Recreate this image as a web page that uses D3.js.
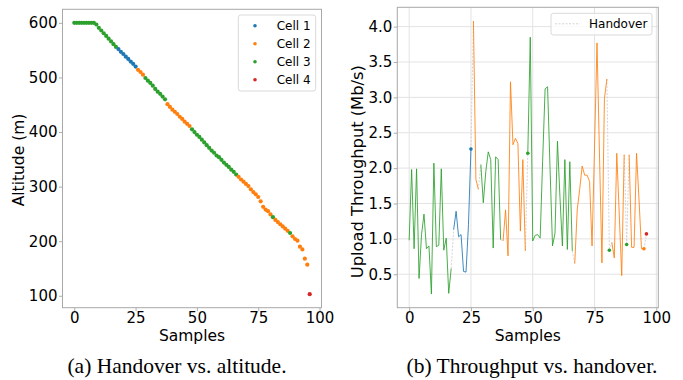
<!DOCTYPE html>
<html>
<head>
<meta charset="utf-8">
<script src="https://cdn.jsdelivr.net/npm/d3@7"></script>
<style>
  body { margin: 0; background: #fff; }
  svg { display: block; }
</style>
</head>
<body>
<svg id="chart" width="683" height="380"></svg>
<script>
// ---- data ----
const cellNames = ["Cell 1", "Cell 2", "Cell 3", "Cell 4"];
const cellColors = ["#1f77b4", "#ff7f0e", "#2ca02c", "#d62728"];

// serving cell per sample (1..4)
const cellOf = [
  3, 3, 3, 3, 3, 3, 3, 3, 3, 3, 3, 3, 3, 3, 3, 3, 3, 3,
  1, 1, 1, 1, 1, 1, 1, 1,
  2, 2, 2,
  3, 3, 3, 3, 3, 3, 3, 3, 3,
  2, 2, 2, 2, 2, 2, 2, 2, 2, 2,
  3, 3, 3, 3, 3, 3, 3, 3, 3, 3, 3, 3, 3, 3, 3, 3, 3, 3, 3,
  2, 2, 2, 2, 2, 2, 2, 2, 2, 2, 2, 2, 2, 2,
  3,
  2, 2, 2, 2, 2, 2,
  3,
  2, 2, 2, 2, 2, 2, 2,
  4
];

const altitude = [
  600, 600, 600, 600, 600, 600, 600, 600, 600,
  597, 591, 586, 581, 576, 571, 566, 561, 556,
  552, 547, 543, 538, 534, 529, 525, 520,
  514, 510, 505,
  499, 494, 490, 485, 479, 474, 470, 465, 460,
  451, 446, 441, 437, 433, 428, 424, 419, 415, 411,
  405, 400, 395, 391, 386, 381, 376, 371, 366, 362, 357, 354, 349, 344, 340, 336, 331, 327, 322,
  318, 313, 309, 305, 301, 295, 290, 286, 281, 273, 263, 258, 255, 249,
  244,
  239, 235, 231, 227, 223, 219,
  215,
  209, 204, 201, 190, 185, 168, 157,
  103
];

const throughput = [
  0.98, 1.98, 0.86, 1.99, 0.44, 1.06, 1.35, 0.86, 0.90, 0.22, 2.07, 0.89, 0.91, 1.99, 0.84, 1.01, 0.23, 0.58,
  1.13, 1.39, 1.03, 1.06, 0.54, 0.53, 1.20, 2.27,
  4.08, 1.84, 1.70,
  2.05, 1.51, 1.95, 2.23, 2.12, 0.87, 2.16, 2.12, 0.99,
  0.97, 1.41, 0.76, 3.22, 2.33, 2.42, 2.35, 1.11, 2.12, 0.83,
  2.21, 3.85, 0.97, 1.05, 1.06, 1.01, 2.10, 3.12, 3.15, 2.00, 0.90, 1.08, 2.38, 1.60, 0.90, 2.12, 0.85, 2.09, 0.83,
  0.65, 1.41, 1.70, 2.03, 1.90, 1.90, 1.81, 0.90, 2.30, 3.77, 2.20, 0.66, 2.98, 3.26,
  0.84,
  0.95, 0.73, 2.21, 1.35, 0.48, 2.19,
  0.92,
  2.19, 0.88, 0.88, 2.21, 1.55, 0.86, 0.86,
  1.07
];

// samples that carry a dot marker in panel (b)
const markerIdx = [25, 48, 81, 88, 95, 96];

const xTicks = [0, 25, 50, 75, 100];
const altTicks = [100, 200, 300, 400, 500, 600];
const tputTicks = [0.5, 1.0, 1.5, 2.0, 2.5, 3.0, 3.5, 4.0];
const handoverLabel = "Handover";

// ---- layout ----
const FONT = "'DejaVu Sans', sans-serif";
const SERIF = "'Liberation Serif', 'Times New Roman', serif";
const svg = d3.select("#chart");

const samples = d3.range(altitude.length);

function padded(ext) {
  const m = (ext[1] - ext[0]) * 0.05;
  return [ext[0] - m, ext[1] + m];
}

function frameAxes(g, x, y, xt, yt, yFmt, grid) {
  const [x0, x1] = x.range();
  const [y0, y1] = y.range();
  if (grid) {
    g.append("g").selectAll("line.gx").data(xt).join("line")
      .attr("x1", d => x(d)).attr("x2", d => x(d))
      .attr("y1", y1).attr("y2", y0)
      .attr("stroke", "#e3e3e3").attr("stroke-width", 1);
    g.append("g").selectAll("line.gy").data(yt).join("line")
      .attr("x1", x0).attr("x2", x1)
      .attr("y1", d => y(d)).attr("y2", d => y(d))
      .attr("stroke", "#e3e3e3").attr("stroke-width", 1);
  }
  const xa = g.append("g")
    .attr("transform", `translate(0,${y0})`)
    .call(d3.axisBottom(x).tickValues(xt).tickSize(3.5).tickPadding(1).tickFormat(d3.format("d")));
  const ya = g.append("g")
    .attr("transform", `translate(${x0},0)`)
    .call(d3.axisLeft(y).tickValues(yt).tickSize(3.5).tickPadding(1.5).tickFormat(yFmt));
  [xa, ya].forEach(a => {
    a.select(".domain").remove();
    a.selectAll(".tick line").attr("stroke", "#999").attr("stroke-width", 0.8);
    a.selectAll(".tick text")
      .attr("fill", "#000")
      .attr("font-family", FONT)
      .attr("font-size", "15px");
  });
  g.append("rect")
    .attr("x", x0).attr("y", y1)
    .attr("width", x1 - x0).attr("height", y0 - y1)
    .attr("fill", "none").attr("stroke", "#a8a8a8").attr("stroke-width", 1);
}

// ---- panel (a): altitude vs samples ----
const xA = d3.scaleLinear().domain(padded(d3.extent(samples))).range([62.5, 321.5]);
const yA = d3.scaleLinear().domain(padded(d3.extent(altitude))).range([307.7, 9.3]);
const gA = svg.append("g");

gA.append("g").selectAll("circle")
  .data(samples).join("circle")
  .attr("cx", i => xA(i))
  .attr("cy", i => yA(altitude[i]))
  .attr("r", 2.1)
  .attr("fill", i => cellColors[cellOf[i] - 1]);

frameAxes(gA, xA, yA, xTicks, altTicks, d3.format("d"), false);

gA.append("text")
  .attr("x", (62.5 + 321.5) / 2).attr("y", 341)
  .attr("text-anchor", "middle")
  .attr("font-family", FONT).attr("font-size", "15.5px")
  .text("Samples");
gA.append("text")
  .attr("transform", `translate(24,160) rotate(-90)`)
  .attr("text-anchor", "middle")
  .attr("font-family", FONT).attr("font-size", "15.5px")
  .text("Altitude (m)");

// legend (a)
const legA = gA.append("g");
legA.append("rect")
  .attr("x", 238.3).attr("y", 15).attr("width", 77.4).attr("height", 76)
  .attr("rx", 2.5).attr("fill", "#fff").attr("fill-opacity", 0.8)
  .attr("stroke", "#d9d9d9").attr("stroke-width", 1);
const rowA = legA.selectAll("g.row").data(cellNames).join("g")
  .attr("transform", (d, i) => `translate(0,${25.7 + i * 18})`);
rowA.append("circle").attr("cx", 255).attr("cy", 0).attr("r", 1.8)
  .attr("fill", (d, i) => cellColors[i]);
rowA.append("text").attr("x", 276.7).attr("y", 4.3)
  .attr("font-family", FONT).attr("font-size", "12px")
  .text(d => d);

// ---- panel (b): throughput vs samples ----
const xB = d3.scaleLinear().domain(padded(d3.extent(samples))).range([397.3, 658.3]);
const yB = d3.scaleLinear().domain(padded(d3.extent(throughput))).range([307.7, 7.3]);
const gB = svg.append("g");

frameAxes(gB, xB, yB, xTicks, tputTicks, d3.format(".1f"), true);

// split samples into runs of the same serving cell
const runs = [];
samples.forEach(i => {
  const last = runs[runs.length - 1];
  if (last && last.cell === cellOf[i]) last.idx.push(i);
  else runs.push({ cell: cellOf[i], idx: [i] });
});

const line = d3.line().x(i => xB(i)).y(i => yB(throughput[i]));

// handover links between consecutive runs
gB.append("g").selectAll("path")
  .data(runs.slice(1).map((r, k) => [runs[k].idx[runs[k].idx.length - 1], r.idx[0]]))
  .join("path")
  .attr("d", line)
  .attr("fill", "none")
  .attr("stroke", "#cfcfcf").attr("stroke-width", 0.9)
  .attr("stroke-dasharray", "2,1.5");

gB.append("g").selectAll("path")
  .data(runs).join("path")
  .attr("d", r => line(r.idx))
  .attr("fill", "none")
  .attr("stroke", r => cellColors[r.cell - 1])
  .attr("stroke-width", 1)
  .attr("stroke-opacity", 0.85)
  .attr("stroke-linejoin", "round");

gB.append("g").selectAll("circle")
  .data(markerIdx).join("circle")
  .attr("cx", i => xB(i))
  .attr("cy", i => yB(throughput[i]))
  .attr("r", 1.8)
  .attr("fill", i => cellColors[cellOf[i] - 1]);

gB.append("text")
  .attr("x", (397.3 + 658.3) / 2).attr("y", 341)
  .attr("text-anchor", "middle")
  .attr("font-family", FONT).attr("font-size", "15.5px")
  .text("Samples");
gB.append("text")
  .attr("transform", `translate(363,171.7) rotate(-90)`)
  .attr("text-anchor", "middle")
  .attr("font-family", FONT).attr("font-size", "16.3px")
  .text("Upload Throughput (Mb/s)");

// legend (b)
const legB = gB.append("g");
legB.append("rect")
  .attr("x", 551).attr("y", 13.3).attr("width", 101).attr("height", 21.7)
  .attr("rx", 2.5).attr("fill", "#fff").attr("fill-opacity", 0.8)
  .attr("stroke", "#d9d9d9").attr("stroke-width", 1);
legB.append("line")
  .attr("x1", 555).attr("x2", 580).attr("y1", 23.8).attr("y2", 23.8)
  .attr("stroke", "#cfcfcf").attr("stroke-width", 0.9)
  .attr("stroke-dasharray", "2,1.5");
legB.append("text").attr("x", 589).attr("y", 28.2)
  .attr("font-family", FONT).attr("font-size", "12px")
  .text(handoverLabel);

// ---- captions ----
svg.append("text")
  .attr("x", 177).attr("y", 373)
  .attr("text-anchor", "middle")
  .attr("font-family", SERIF).attr("font-size", "21.5px")
  .text("(a) Handover vs. altitude.");
svg.append("text")
  .attr("x", 532).attr("y", 373)
  .attr("text-anchor", "middle")
  .attr("font-family", SERIF).attr("font-size", "21.5px")
  .text("(b) Throughput vs. handover.");
</script>
</body>
</html>
